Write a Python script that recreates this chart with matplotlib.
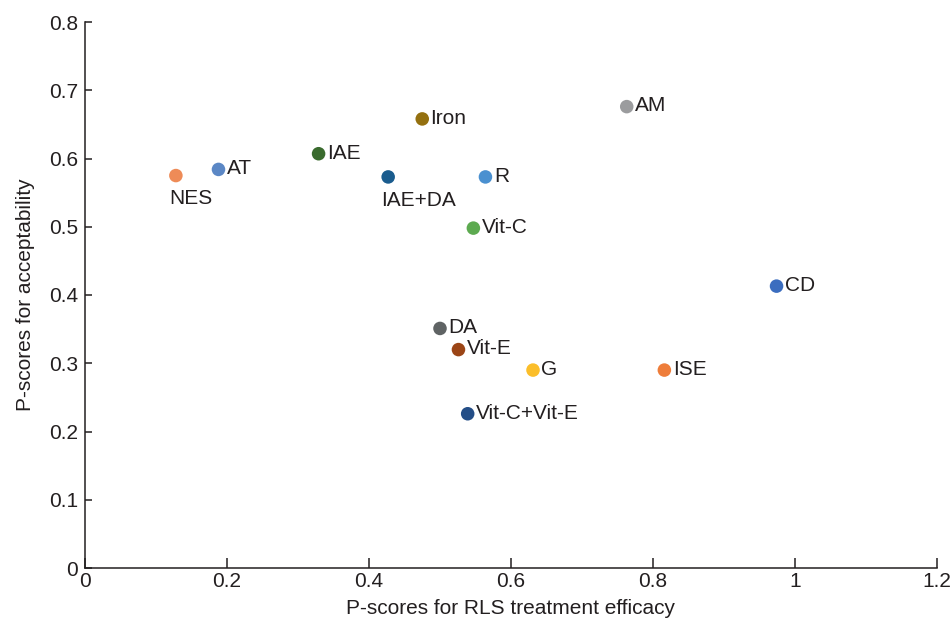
import matplotlib
matplotlib.use("Agg")
import matplotlib.pyplot as plt

plt.rcParams['font.family'] = ['Liberation Sans', 'DejaVu Sans']

labels = ["NES", "AT", "IAE", "IAE+DA", "Iron", "R", "Vit-C", "AM",
          "CD", "ISE", "DA", "Vit-E", "G", "Vit-C+Vit-E"]
efficacy = [0.128, 0.188, 0.329, 0.427, 0.475, 0.564, 0.547, 0.763,
            0.974, 0.816, 0.500, 0.526, 0.631, 0.539]
acceptability = [0.575, 0.584, 0.607, 0.573, 0.658, 0.573, 0.498, 0.676,
                 0.413, 0.290, 0.351, 0.320, 0.290, 0.226]
colors = ["#EE8B57", "#5B87C5", "#3A6B2E", "#1A5C8E", "#94700F", "#4A90D0",
          "#5DAA50", "#9B9C9E", "#3B6DBF", "#EE7D3A", "#5F6364", "#9B4516",
          "#FBBE2A", "#244E87"]
below = {"NES", "IAE+DA"}

text_color = "#231F20"
fs = 15

fig = plt.figure(figsize=(9.51, 6.24), dpi=100)
ax = fig.add_axes([85/951, 1 - 568/624, (937-85)/951, (568-22)/624])

ax.scatter(efficacy, acceptability, s=95, c=colors, edgecolors='none', zorder=3)

for lab, x, y in zip(labels, efficacy, acceptability):
    if lab in below:
        ax.annotate(lab, (x, y), xytext=(-5, -10), textcoords='offset points',
                    ha='left', va='top', fontsize=fs, color=text_color)
    else:
        ax.annotate(lab, (x, y), xytext=(6, 0.5), textcoords='offset points',
                    ha='left', va='center', fontsize=fs, color=text_color)

ax.set_xlim(0, 1.2)
ax.set_ylim(0, 0.8)
ax.set_xticks([0, 0.2, 0.4, 0.6, 0.8, 1.0, 1.2])
ax.set_xticklabels(["0", "0.2", "0.4", "0.6", "0.8", "1", "1.2"])
ax.set_yticks([0, 0.1, 0.2, 0.3, 0.4, 0.5, 0.6, 0.7, 0.8])
ax.set_yticklabels(["0", "0.1", "0.2", "0.3", "0.4", "0.5", "0.6", "0.7", "0.8"])

for side in ["top", "right"]:
    ax.spines[side].set_visible(False)
for side in ["left", "bottom"]:
    ax.spines[side].set_linewidth(1.1)
    ax.spines[side].set_color(text_color)

ax.tick_params(axis='x', direction='in', length=7, width=1.1, colors=text_color,
               labelsize=fs, pad=3)
ax.tick_params(axis='y', direction='in', length=5, width=1.1, colors=text_color,
               labelsize=fs, pad=5)

ax.set_xlabel("P-scores for RLS treatment efficacy", fontsize=fs, color=text_color, labelpad=6)
ax.set_ylabel("P-scores for acceptability", fontsize=fs, color=text_color, labelpad=10)

fig.savefig("out.png", dpi=100)
